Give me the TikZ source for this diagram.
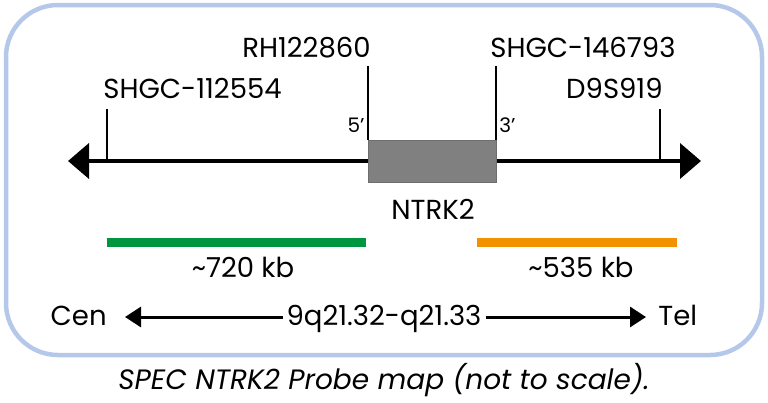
\documentclass[tikz,border=0pt]{standalone}
\usepackage{fontspec}
\setmainfont{Poppins}
\usetikzlibrary{arrows.meta}
\definecolor{framecolor}{RGB}{182,200,234}
\definecolor{probegreen}{RGB}{0,150,62}
\definecolor{probeorange}{RGB}{243,146,0}
\definecolor{genegray}{RGB}{128,128,128}

\begin{document}
\begin{tikzpicture}[x=1pt, y=-1pt, thick,
  label/.style={inner sep=0pt, font=\fontsize{27.5}{32}\selectfont},
  prime/.style={inner sep=0pt, font=\fontsize{20}{24}\selectfont},
  tick/.style={line width=2pt},
  probe/.style={line width=9pt}]

\useasboundingbox (0,0) rectangle (768,402);

% ------------------------------------------------------------------
% === EDITABLE PARAMETERS ==========================================
\def\axisY{161}     % y of the chromosome line
\def\highY{66}      % top of the long ticks
\def\lowY{109}      % top of the short ticks
\def\barY{242}      % y of the probe bars
% ==================================================================

% --- frame ---------------------------------------------------------
\draw[framecolor, line width=4.5pt, rounded corners=52pt]
  (6,5) rectangle (762,355);

% --- chromosome line ----------------------------------------------
\coordinate (L) at (68,\axisY);
\coordinate (R) at (701,\axisY);
\draw[line width=4pt, {Triangle[length=21pt,width=35pt]}-{Triangle[length=21pt,width=35pt]}]
  (L) -- (R);

% --- gene box ------------------------------------------------------
\node[fill=genegray, draw=genegray!85!black, line width=0.6pt,
  minimum width=128pt, minimum height=42pt, inner sep=0pt]
  (gene) at (432,161) {};
\node[label, anchor=base] (ntrk) at (433,219) {NTRK2};

% --- markers and ticks --------------------------------------------
\node[label, anchor=base west] (m1) at (103,98) {SHGC-112554};
\node[label, anchor=base east] (m2) at (371,57) {RH122860};
\node[label, anchor=base west] (m3) at (490,57) {SHGC-146793};
\node[label, anchor=base east] (m4) at (663,98) {D9S919};

\coordinate (t1) at (107,\lowY);
\coordinate (t4) at (660,\lowY);
\coordinate (t2) at (gene.north west |- 0,\highY);
\coordinate (t3) at (gene.north east |- 0,\highY);

\draw[tick] (t1) -- (t1 |- L);
\draw[tick] (t4) -- (t4 |- L);
\draw[tick] (t2) -- (gene.north west);
\draw[tick] (t3) -- (gene.north east);

\node[prime, anchor=base east] (p5) at (365,132) {5’};
\node[prime, anchor=base west] (p3) at (499,132) {3’};

% --- probe bars ----------------------------------------------------
\coordinate (g1) at (107,\barY);  \coordinate (g2) at (366,\barY);
\coordinate (o1) at (477,\barY);  \coordinate (o2) at (677,\barY);
\draw[probe, probegreen] (g1) -- (g2);
\draw[probe, probeorange] (o1) -- (o2);
\node[label, anchor=base] (kb1) at (243,277) {\textasciitilde720 kb};
\node[label, anchor=base] (kb2) at (581,277) {\textasciitilde535 kb};

% --- orientation ---------------------------------------------------
\node[label, anchor=base] (band) at (384,325) {9q21.32-q21.33};
\node[label, anchor=base east] (cen) at (107,325) {Cen};
\node[label, anchor=base west] (tel) at (658,325) {Tel};
\draw[line width=3pt, -{Triangle[length=16pt,width=20pt]}]
  (band.west |- 0,317) ++(-3,0) -- (125,317);
\draw[line width=3pt, -{Triangle[length=16pt,width=20pt]}]
  (band.east |- 0,317) ++(4,0) -- (646,317);

% --- caption -------------------------------------------------------
\node[label, anchor=base, font=\fontsize{28}{32}\itshape] (cap) at (384,389)
  {SPEC NTRK2 Probe map (not to scale).};

\end{tikzpicture}
\end{document}
